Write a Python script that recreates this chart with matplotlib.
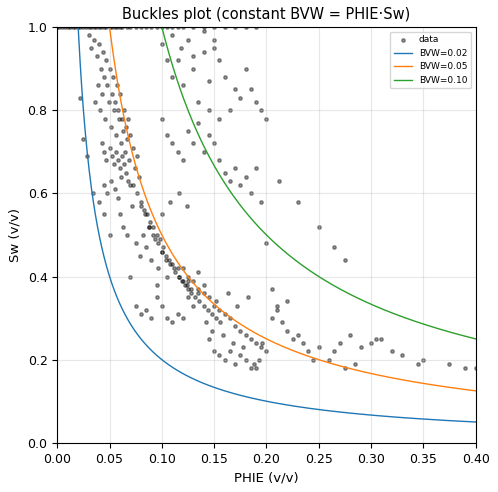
import numpy as np
import matplotlib
matplotlib.use("Agg")
import matplotlib.pyplot as plt

phie = [
 0.0,0.005,0.01,0.015,0.02,0.025,0.03,0.035,0.04,0.045,0.05,0.055,0.06,0.07,0.08,0.09,0.1,0.11,0.12,0.13,0.14,0.15,0.16,0.17,0.18,0.19,
 0.03,0.032,0.035,0.038,0.04,0.042,0.044,0.045,0.047,0.048,0.05,0.052,0.053,0.055,0.057,0.058,0.06,0.062,0.064,0.066,0.068,0.07,
 0.036,0.039,0.041,0.043,0.046,0.049,0.051,0.054,0.056,0.059,0.061,0.063,0.065,0.067,0.069,0.072,0.074,0.076,0.078,
 0.043,0.045,0.047,0.05,0.052,0.054,0.056,0.058,0.06,0.062,0.064,0.066,0.068,0.07,0.045,0.048,0.051,0.055,0.058,0.061,
 0.022,0.025,0.028,0.034,0.04,0.045,0.05,0.06,0.063,0.067,0.071,0.075,0.079,0.082,0.085,0.088,0.09,0.093,0.096,0.1,
 0.072,0.076,0.08,0.083,0.086,0.089,0.092,0.095,0.098,0.101,0.104,0.107,0.11,0.113,0.116,0.119,0.122,0.125,0.128,
 0.08,0.084,0.088,0.092,0.096,0.1,0.104,0.108,0.112,0.116,0.12,0.124,0.128,0.132,0.136,0.14,0.144,0.148,0.152,0.156,
 0.12,0.125,0.13,0.135,0.14,0.145,0.15,0.155,0.16,0.165,0.17,0.175,0.18,0.185,0.19,0.195,0.2,0.142,0.148,0.158,0.168,0.178,0.188,
 0.15,0.155,0.16,0.165,0.17,0.175,0.18,0.185,0.19,0.193,0.196,0.145,0.152,0.163,0.172,0.182,
 0.085,0.09,0.095,0.1,0.105,0.11,0.115,0.12,0.125,0.13,0.135,0.14,0.07,0.075,0.08,0.095,0.105,0.115,0.125,0.135,
 0.1,0.105,0.11,0.115,0.12,0.125,0.13,0.135,0.14,0.145,0.15,0.155,0.16,0.165,0.17,0.175,0.18,0.185,0.19,0.195,
 0.11,0.115,0.12,0.13,0.14,0.145,0.15,0.155,0.16,0.17,0.18,0.19,0.2,0.135,0.145,0.155,0.165,0.175,0.185,0.195,
 0.1,0.105,0.11,0.118,0.125,0.13,0.14,0.15,0.1,0.108,0.116,0.124,
 0.205,0.21,0.215,0.22,0.225,0.23,0.235,0.24,0.245,0.25,0.26,0.265,0.27,0.275,0.28,0.285,0.29,0.3,0.305,0.31,0.32,0.33,0.345,0.35,0.375,0.39,0.4,
 0.2,0.212,0.23,0.25,0.265,0.275,0.205,0.21,0.22,
 0.002,0.007,0.012,0.017,0.022,0.027,0.032,0.037,0.042,0.047,0.052,0.057,0.062,0.067,0.075,0.085,0.095,0.105,0.115,
]
sw = [
 1.0,1.0,1.0,1.0,1.0,1.0,1.0,1.0,1.0,1.0,1.0,1.0,1.0,1.0,1.0,1.0,1.0,1.0,1.0,1.0,1.0,1.0,1.0,1.0,1.0,1.0,
 0.98,0.95,0.97,0.93,0.96,0.9,0.94,0.88,0.92,0.86,0.9,0.84,0.88,0.82,0.86,0.8,0.84,0.78,0.8,0.76,0.78,0.74,
 0.82,0.86,0.8,0.84,0.78,0.82,0.76,0.8,0.74,0.78,0.72,0.75,0.7,0.73,0.68,0.71,0.66,0.69,0.64,
 0.72,0.7,0.68,0.71,0.69,0.67,0.7,0.68,0.66,0.69,0.67,0.65,0.63,0.62,0.62,0.6,0.63,0.61,0.59,0.64,
 0.83,0.73,0.69,0.6,0.58,0.55,0.5,0.55,0.52,0.5,0.57,0.48,0.45,0.5,0.47,0.52,0.44,0.49,0.42,0.46,
 0.62,0.6,0.58,0.56,0.55,0.53,0.52,0.5,0.49,0.47,0.45,0.44,0.43,0.41,0.4,0.39,0.38,0.37,0.36,
 0.57,0.55,0.52,0.5,0.48,0.46,0.44,0.43,0.42,0.4,0.39,0.38,0.37,0.35,0.34,0.33,0.32,0.31,0.3,0.29,
 0.42,0.4,0.39,0.37,0.36,0.35,0.33,0.32,0.31,0.3,0.28,0.27,0.26,0.25,0.24,0.23,0.22,0.29,0.27,0.26,0.24,0.23,0.19,
 0.22,0.21,0.2,0.22,0.19,0.21,0.2,0.18,0.18,0.2,0.24,0.25,0.34,0.36,0.33,0.35,
 0.32,0.3,0.35,0.33,0.3,0.29,0.31,0.3,0.35,0.33,0.36,0.38,0.4,0.33,0.31,0.38,0.4,0.42,0.39,0.41,
 0.78,0.74,0.72,0.7,0.68,0.75,0.72,0.77,0.7,0.74,0.72,0.68,0.65,0.63,0.66,0.62,0.64,0.6,0.66,0.58,
 0.88,0.92,0.86,0.9,0.94,0.87,0.95,0.92,0.88,0.85,0.9,0.82,0.78,0.82,0.8,0.78,0.8,0.83,0.85,0.8,
 0.96,0.92,0.98,0.95,0.97,0.93,0.99,0.97,0.55,0.58,0.6,0.57,
 0.3,0.33,0.29,0.27,0.25,0.26,0.24,0.22,0.2,0.23,0.2,0.22,0.24,0.18,0.26,0.19,0.23,0.24,0.25,0.25,0.22,0.21,0.19,0.2,0.19,0.18,0.18,
 0.48,0.63,0.58,0.52,0.47,0.44,0.37,0.32,0.34,
 1.0,1.0,1.0,1.0,1.0,1.0,1.0,1.0,1.0,1.0,1.0,1.0,1.0,1.0,1.0,1.0,1.0,1.0,1.0,
]

bvw_levels = [0.02, 0.05, 0.10]
phie_curve = np.linspace(0.001, 0.4, 800)

fig, ax = plt.subplots(figsize=(4.98, 4.92), dpi=100)
ax.scatter(phie, sw, s=6, c='black', alpha=0.4, label='data')
for b in bvw_levels:
    ax.plot(phie_curve, np.clip(b / phie_curve, 0, 1.0), lw=1, label=f'BVW={b:.2f}')
ax.set_xlim(0, 0.4)
ax.set_ylim(0, 1.0)
ax.set_xlabel('PHIE (v/v)', fontsize=9.5)
ax.set_ylabel('Sw (v/v)', fontsize=9.5)
ax.set_title('Buckles plot (constant BVW = PHIE·Sw)', fontsize=10.5)
ax.tick_params(labelsize=9)
ax.grid(True, alpha=0.3)
ax.legend(loc='upper right', fontsize=6.5)
fig.subplots_adjust(left=0.115, right=0.955, top=0.945, bottom=0.1)
fig.savefig('out.png')
